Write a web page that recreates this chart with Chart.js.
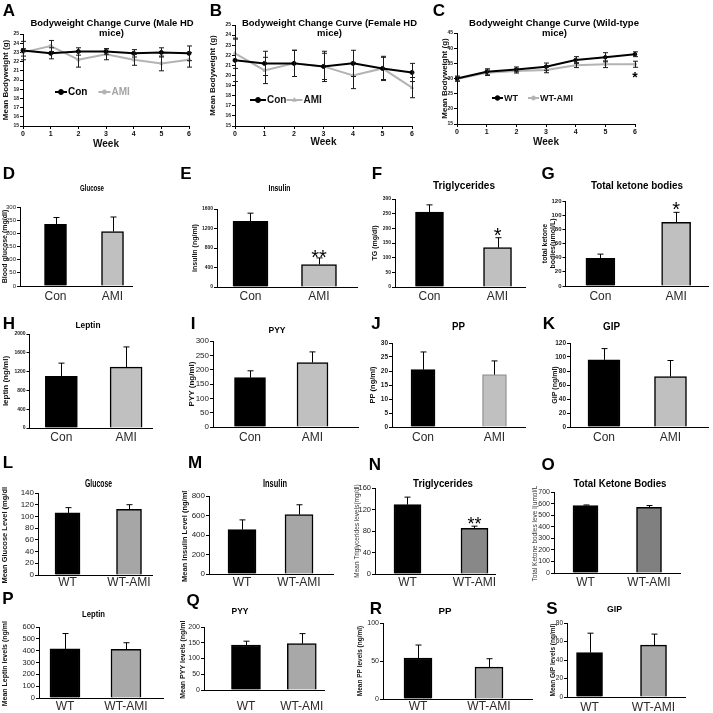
<!DOCTYPE html>
<html>
<head>
<meta charset="utf-8">
<title>Bodyweight and plasma hormone panels</title>
<script src="https://cdn.jsdelivr.net/npm/chart.js@4.4.1/dist/chart.umd.min.js"></script>
<style>
  html, body { margin: 0; padding: 0; background: #fff; }
  body { position: relative; width: 713px; height: 713px; overflow: hidden; }
  canvas { position: absolute; }
</style>
</head>
<body>
<script>
// ---- data ----
const weeks = ["0", "1", "2", "3", "4", "5", "6"];
const hdGroups = ["Con", "AMI"];
const wtGroups = ["WT", "WT-AMI"];

// A: male HD mice, mean bodyweight (g)
const maleCon = [23.2, 22.9, 23.1, 23.1, 22.9, 23.0, 22.9];
const maleConSem = [1.0, 0.6, 0.4, 0.3, 0.4, 0.5, 0.8];
const maleAmi = [23.0, 23.7, 22.2, 22.8, 22.2, 21.8, 22.2];
const maleAmiSem = [0.4, 0.6, 0.8, 0.6, 0.6, 0.8, 0.8];

// B: female HD mice
const femaleCon = [21.5, 21.2, 21.2, 20.9, 21.2, 20.7, 20.3];
const femaleConSem = [2.1, 1.2, 1.3, 1.5, 1.3, 1.2, 0.9];
const femaleAmi = [22.2, 20.5, 21.2, 20.9, 20.0, 20.7, 18.8];
const femaleAmiSem = [1.5, 1.3, 1.3, 1.3, 1.3, 1.1, 1.0];

// C: wild-type mice
const wtWeight = [30.0, 32.2, 33.0, 33.9, 36.1, 37.0, 38.0];
const wtWeightSem = [0.8, 1.0, 0.8, 1.2, 1.1, 1.5, 0.8];
const wtAmiWeight = [29.8, 31.9, 32.5, 32.8, 34.4, 34.7, 34.7];
const wtAmiWeightSem = [0.7, 0.9, 0.7, 0.9, 0.8, 1.1, 1.0];
const wtAmiWeightSig = ["", "", "", "", "", "", "*"];

// D-K: HD mice, Con vs AMI
const hdGlucose = [234, 207];      const hdGlucoseSem = [26, 55];
const hdInsulin = [1345, 462];     const hdInsulinSem = [170, 135];   const hdInsulinSig = ["", "**"];
const hdTg = [255, 134];           const hdTgSem = [25, 34];          const hdTgSig = ["", "*"];
const hdKetone = [39, 90];         const hdKetoneSem = [6, 14];       const hdKetoneSig = ["", "*"];
const hdLeptin = [1100, 1295];     const hdLeptinSem = [280, 430];
const hdPyy = [172, 225];          const hdPyySem = [24, 37];
const hdPp = [20.5, 18.7];         const hdPpSem = [6.3, 4.9];
const hdGip = [96, 72];            const hdGipSem = [16, 23];

// L-S: wild-type mice, WT vs WT-AMI
const wtGlucose = [106, 112];      const wtGlucoseSem = [9, 8];
const wtInsulin = [455, 610];      const wtInsulinSem = [100, 100];
const wtTg = [129, 85];            const wtTgSem = [14, 4];           const wtTgSig = ["", "**"];
const wtKetone = [582, 568];       const wtKetoneSem = [6, 15];
const wtLeptin = [415, 412];       const wtLeptinSem = [130, 55];
const wtPyy = [143, 147];          const wtPyySem = [12, 32];
const wtPp = [54, 42];             const wtPpSem = [17, 11];
const wtGip = [48, 56];            const wtGipSem = [21, 12];

// ---- chart setup ----
const FONT = '"Liberation Sans", Arial, sans-serif';
Chart.defaults.font.family = FONT;
Chart.defaults.color = "#111";
Chart.defaults.animation = false;

const valueOf = (d) => (d !== null && typeof d === "object" ? d.y : d);
const plainTick = (v) => String(v);

// error bars (upward for bars, both ways for curves)
const errorBars = {
  id: "errorBars",
  afterDatasetsDraw(chart) {
    const ctx = chart.ctx;
    const yScale = chart.scales.y;
    chart.data.datasets.forEach((ds, di) => {
      if (!ds.sem) return;
      const meta = chart.getDatasetMeta(di);
      ctx.save();
      ctx.strokeStyle = ds.semColor || "#000";
      ctx.lineWidth = 1;
      meta.data.forEach((pt, i) => {
        const v = valueOf(ds.data[i]);
        const x = Math.round(pt.x) + 0.5;
        const hi = yScale.getPixelForValue(v + ds.sem[i]);
        const lo = ds.semBoth ? yScale.getPixelForValue(v - ds.sem[i]) : pt.y;
        const cap = ds.semCap || 3;
        ctx.beginPath();
        ctx.moveTo(x, hi);
        ctx.lineTo(x, lo);
        ctx.moveTo(x - cap, hi);
        ctx.lineTo(x + cap, hi);
        if (ds.semBoth) {
          ctx.moveTo(x - cap, lo);
          ctx.lineTo(x + cap, lo);
        }
        ctx.stroke();
      });
      ctx.restore();
    });
  }
};

// significance asterisks
const sigStars = {
  id: "sigStars",
  afterDatasetsDraw(chart) {
    const ctx = chart.ctx;
    const yScale = chart.scales.y;
    chart.data.datasets.forEach((ds, di) => {
      if (!ds.sig) return;
      const meta = chart.getDatasetMeta(di);
      const size = ds.sigSize || 20;
      const gap = ds.sigGap || 6;
      ctx.save();
      ctx.font = (ds.sigWeight || "normal") + " " + size + "px " + FONT;
      ctx.fillStyle = "#000";
      ctx.textAlign = "center";
      ctx.textBaseline = "alphabetic";
      ds.sig.forEach((s, i) => {
        if (!s) return;
        const v = valueOf(ds.data[i]);
        const mid = ds.sigBelow
          ? yScale.getPixelForValue(v - ds.sem[i]) + gap
          : yScale.getPixelForValue(v + ds.sem[i]) - gap;
        ctx.fillText(s, meta.data[i].x, mid + 0.57 * size);
      });
      ctx.restore();
    });
  }
};

// legend drawn inside the plot, like the original figure
const innerLegend = {
  id: "innerLegend",
  afterDatasetsDraw(chart, args, opts) {
    if (opts.left === undefined) return;
    const ctx = chart.ctx;
    let x = chart.chartArea.left + opts.left;
    const y = chart.chartArea.top + opts.top;
    ctx.save();
    ctx.font = opts.textFont;
    ctx.textBaseline = "middle";
    chart.data.datasets.forEach((ds, i) => {
      ctx.strokeStyle = ds.borderColor;
      ctx.lineWidth = ds.borderWidth;
      ctx.beginPath();
      ctx.moveTo(x, y);
      ctx.lineTo(x + opts.lineLen, y);
      ctx.stroke();
      ctx.fillStyle = ds.pointBackgroundColor;
      ctx.strokeStyle = ds.pointBorderColor;
      ctx.lineWidth = 1;
      Chart.helpers.drawPoint(ctx, { pointStyle: ds.pointStyle, radius: ds.pointRadius + 0.5, rotation: 0, borderWidth: 1 },
        x + opts.lineLen / 2, y);
      x += opts.lineLen + 1;
      ctx.fillStyle = opts.textColors[i];
      ctx.fillText(ds.label, x, y + 0.5);
      x += ctx.measureText(ds.label).width + opts.gap;
    });
    ctx.restore();
  }
};

Chart.register(errorBars, sigStars, innerLegend);

function placeCanvas(left, top, w, h) {
  const cv = document.createElement("canvas");
  cv.width = w;
  cv.height = h;
  cv.style.left = left + "px";
  cv.style.top = top + "px";
  cv.style.width = w + "px";
  cv.style.height = h + "px";
  document.body.appendChild(cv);
  return cv;
}

// ---- curve panels A-C ----
const curvePanels = [
  { rect: [23, 34, 189, 126], titleX: 6, weekY: 144, yMin: 15, yMax: 25, yStep: 1,
    series: [
      { label: "Con", data: maleCon, sem: maleConSem, color: "#000", point: "circle", radius: 2 },
      { label: "AMI", data: maleAmi, sem: maleAmiSem, color: "#b3b3b3", point: "circle", radius: 1.6 }],
    legend: { left: 32, top: 58, lineLen: 12, gap: 11, textFont: "bold 10px " + FONT, textColors: ["#000", "#a5a5a5"] } },
  { rect: [235, 25, 412, 126], titleX: 213, weekY: 142, yMin: 15, yMax: 25, yStep: 1,
    series: [
      { label: "Con", data: femaleCon, sem: femaleConSem, color: "#000", point: "circle", radius: 2 },
      { label: "AMI", data: femaleAmi, sem: femaleAmiSem, color: "#b3b3b3", point: "triangle", radius: 1.8 }],
    legend: { left: 15, top: 75, lineLen: 16, gap: 0, textFont: "bold 10px " + FONT, textColors: ["#111", "#111"] } },
  { rect: [457, 33, 635, 124], titleX: 445, weekY: 142, yMin: 15, yMax: 45, yStep: 5,
    series: [
      { label: "WT", data: wtWeight, sem: wtWeightSem, color: "#000", point: "circle", radius: 1.8 },
      { label: "WT-AMI", data: wtAmiWeight, sem: wtAmiWeightSem, sig: wtAmiWeightSig, color: "#b3b3b3", point: "circle", radius: 1.5 }],
    legend: { left: 35, top: 65, lineLen: 11, gap: 10, textFont: "bold 9px " + FONT, textColors: ["#111", "#111"] } }
];

curvePanels.forEach((p) => {
  const [x0, y0, x1, y1] = p.rect;
  const L = x0 - p.titleX + 6, T = 6, R = 6, B = p.weekY - y1 + 8;
  const cv = placeCanvas(x0 - L, y0 - T, x1 - x0 + L + R, y1 - y0 + T + B);
  new Chart(cv, {
    type: "line",
    data: {
      labels: weeks,
      datasets: p.series.map((s) => ({
        label: s.label,
        data: s.data,
        sem: s.sem,
        semBoth: true,
        semCap: 2.5,
        semColor: "#1a1a1a",
        sig: s.sig,
        sigBelow: true,
        sigSize: 14,
        sigWeight: "bold",
        sigGap: 7,
        borderColor: s.color,
        borderWidth: 2,
        tension: 0,
        pointStyle: s.point,
        pointRadius: s.radius,
        pointBackgroundColor: s.color,
        pointBorderColor: s.color,
        pointBorderWidth: 1
      }))
    },
    options: {
      responsive: false,
      animation: false,
      devicePixelRatio: 1,
      layout: { padding: { top: T, right: R, left: 0, bottom: 0 } },
      plugins: { legend: { display: false }, tooltip: { enabled: false }, innerLegend: p.legend },
      scales: {
        x: {
          offset: false,
          grid: { drawOnChartArea: false, tickLength: 3, color: "#000" },
          border: { color: "#000", width: 1 },
          ticks: { font: { size: 7, weight: "bold" }, color: "#111", padding: 1, maxRotation: 0, autoSkip: false },
          title: { display: true, text: "Week", font: { size: 10, weight: "bold" }, color: "#111", padding: { top: 0, bottom: 2 } },
          afterFit: (s) => { s.height = B; }
        },
        y: {
          min: p.yMin,
          max: p.yMax,
          ticks: { stepSize: p.yStep, font: { size: 5, weight: "bold" }, color: "#222", padding: 1, autoSkip: false },
          grid: { drawOnChartArea: false, tickLength: 3, color: "#000" },
          border: { color: "#000", width: 1 },
          title: { display: true, text: "Mean Bodyweight (g)", font: { size: 8, weight: "bold" }, color: "#111", padding: { top: 1.2, bottom: 0 } },
          afterFit: (s) => { s.width = L; }
        }
      }
    }
  });
});

// ---- bar panels D-S ----
const hdGray = "#c0c0c0";
const barPanels = [
  // D
  { rect: [20, 207, 132, 286], xRange: [0.377, 2.342], barW: 22, titleX: 5, labelY: 297, groups: hdGroups,
    values: hdGlucose, sem: hdGlucoseSem, fill: hdGray, yMax: 300, yStep: 50,
    tickFont: { size: 6 }, yTitle: "Blood glucose (mg/dl)", yTitleFont: { size: 7, weight: "bold" } },
  // E
  { rect: [217, 209, 357, 287], xRange: [0.511, 2.555], barW: 35, titleX: 195, labelY: 297, groups: hdGroups,
    values: hdInsulin, sem: hdInsulinSem, sig: hdInsulinSig, sigGap: 5, fill: hdGray, yMax: 1600, yStep: 400,
    tickFont: { size: 5, weight: "bold" }, yTitle: "insulin (ng/ml)", yTitleFont: { size: 7, weight: "bold" } },
  // F
  { rect: [395, 199, 525, 287], xRange: [0.493, 2.404], barW: 28, titleX: 375, labelY: 297, groups: hdGroups,
    values: hdTg, sem: hdTgSem, sig: hdTgSig, sigGap: 7, fill: hdGray, yMax: 300, yStep: 50,
    tickFont: { size: 5, weight: "bold" }, yTitle: "TG (mg/dl)", yTitleFont: { size: 7, weight: "bold" } },
  // G
  { rect: [565, 201, 708, 286], xRange: [0.539, 2.421], barW: 29, titleX: 544.5, labelY: 297, groups: hdGroups,
    values: hdKetone, sem: hdKetoneSem, sig: hdKetoneSig, sigGap: 8, fill: hdGray, yMax: 120, yStep: 20,
    tickFont: { size: 6, weight: "bold" }, yTitle: ["total ketone", "bodies(umol/L)"], yTitleFont: { size: 7, weight: "bold", lineHeight: 1.15 } },
  // H
  { rect: [29, 334, 152, 428], xRange: [0.508, 2.4], barW: 32, titleX: 5.5, labelY: 438, groups: hdGroups,
    values: hdLeptin, sem: hdLeptinSem, fill: hdGray, yMax: 2000, yStep: 400,
    tickFont: { size: 5, weight: "bold" }, yTitle: "leptin (ng/ml)", yTitleFont: { size: 8, weight: "bold" } },
  // I
  { rect: [213, 341, 358, 427], xRange: [0.408, 2.728], barW: 31, titleX: 192, labelY: 438, groups: hdGroups,
    values: hdPyy, sem: hdPyySem, fill: hdGray, yMax: 300, yStep: 50,
    tickFont: { size: 8 }, yTitle: "PYY (ng/ml)", yTitleFont: { size: 8, weight: "bold" } },
  // J
  { rect: [392, 343, 525, 427], xRange: [0.566, 2.427], barW: 24, titleX: 373, labelY: 438, groups: hdGroups,
    values: hdPp, sem: hdPpSem, fill: hdGray, edge: "#9a9a9a", yMax: 30, yStep: 5,
    tickFont: { size: 6.5, weight: "bold" }, yTitle: "PP (ng/ml)", yTitleFont: { size: 7.5, weight: "bold" } },
  // K
  { rect: [570, 343, 708, 427], xRange: [0.489, 2.564], barW: 32, titleX: 555, labelY: 438, groups: hdGroups,
    values: hdGip, sem: hdGipSem, fill: hdGray, yMax: 120, yStep: 20,
    tickFont: { size: 6.5, weight: "bold" }, yTitle: "GIP (ng/ml)", yTitleFont: { size: 7, weight: "bold" } },
  // L
  { rect: [38, 493, 152, 575], xRange: [0.52, 2.374], barW: 25, titleX: 5, labelY: 583, groups: wtGroups,
    values: wtGlucose, sem: wtGlucoseSem, fill: "#a6a6a6", yMax: 140, yStep: 20,
    tickFont: { size: 8 }, yTitle: "Mean Glucose Level (mg/dl)", yTitleFont: { size: 7.5, weight: "bold" } },
  // M
  { rect: [209, 496, 333, 574], xRange: [0.421, 2.596], barW: 28, titleX: 185, labelY: 583, groups: wtGroups,
    values: wtInsulin, sem: wtInsulinSem, fill: "#a6a6a6", yMax: 800, yStep: 200,
    tickFont: { size: 8 }, yTitle: "Mean Insulin Level (ng/ml)", yTitleFont: { size: 7.5, weight: "bold" } },
  // N
  { rect: [375, 488, 495, 574], xRange: [0.515, 2.306], barW: 27, titleX: 357, labelY: 583, groups: wtGroups,
    values: wtTg, sem: wtTgSem, sig: wtTgSig, sigGap: 6, sigSize: 18, fill: "#888888", yMax: 160, yStep: 40,
    tickFont: { size: 7.5 }, yTitle: "Mean Triglycerides levels(mg/dl)", yTitleFont: { size: 6.5 }, yTitleColor: "#333" },
  // O
  { rect: [554, 492, 680, 573], xRange: [0.504, 2.488], barW: 25, titleX: 535, labelY: 583, groups: wtGroups,
    values: wtKetone, sem: wtKetoneSem, fill: "#808080", yMax: 700, yStep: 100,
    tickFont: { size: 7 }, yTitle: "Total Ketone bodies leve l(umol/L)", yTitleFont: { size: 6.5 }, yTitleColor: "#333" },
  // P
  { rect: [39, 627, 163, 698], xRange: [0.574, 2.607], barW: 30, titleX: 5, labelY: 707, groups: wtGroups,
    values: wtLeptin, sem: wtLeptinSem, fill: "#a8a8a8", yMax: 600, yStep: 100,
    tickFont: { size: 7.5 }, yTitle: "Mean Leptin levels (ng/ml)", yTitleFont: { size: 7, weight: "bold" } },
  // Q
  { rect: [204, 627, 330, 690], xRange: [0.248, 2.402], barW: 29, titleX: 183, labelY: 707, groups: wtGroups,
    values: wtPyy, sem: wtPyySem, fill: "#a8a8a8", yMax: 200, yStep: 50,
    tickFont: { size: 7 }, yTitle: "Mean PYY levels (ng/ml)", yTitleFont: { size: 7, weight: "bold" } },
  // R
  { rect: [383, 623, 532, 699], xRange: [0.507, 2.606], barW: 28, titleX: 360, labelY: 707, groups: wtGroups,
    values: wtPp, sem: wtPpSem, fill: "#a8a8a8", yMax: 100, yStep: 50,
    tickFont: { size: 7 }, yTitle: "Mean PP levels (ng/ml)", yTitleFont: { size: 6.5, weight: "bold" } },
  // S
  { rect: [567, 623, 685, 697], xRange: [0.648, 2.492], barW: 26, titleX: 553, labelY: 708, groups: wtGroups,
    values: wtGip, sem: wtGipSem, fill: "#a8a8a8", yMax: 80, yStep: 20,
    tickFont: { size: 6.5 }, yTitle: "Mean GIP levels (ng/ml)", yTitleFont: { size: 6.5, weight: "bold" } }
];

barPanels.forEach((p) => {
  const [x0, y0, x1, y1] = p.rect;
  const L = x0 - p.titleX + 6, T = 6, R = 4, B = p.labelY - y1 + 9;
  const cv = placeCanvas(x0 - L, y0 - T, x1 - x0 + L + R, y1 - y0 + T + B);
  const tSize = p.yTitleFont.size;
  const tLine = p.yTitleFont.lineHeight || 1.2;
  new Chart(cv, {
    type: "bar",
    data: {
      datasets: [{
        data: p.values.map((v, i) => ({ x: i + 1, y: v })),
        sem: p.sem,
        sig: p.sig,
        sigSize: p.sigSize || 20,
        sigGap: p.sigGap || 6,
        backgroundColor: ["#000", p.fill],
        borderColor: ["#000", p.edge || "#000"],
        borderWidth: 1.5,
        barThickness: p.barW
      }]
    },
    options: {
      responsive: false,
      animation: false,
      devicePixelRatio: 1,
      layout: { padding: { top: T, right: R, left: 0, bottom: 0 } },
      plugins: { legend: { display: false }, tooltip: { enabled: false } },
      scales: {
        x: {
          type: "linear",
          offset: false,
          min: p.xRange[0],
          max: p.xRange[1],
          grid: { offset: false, drawOnChartArea: false, drawTicks: false },
          border: { color: "#000", width: 1 },
          ticks: {
            stepSize: 1,
            includeBounds: false,
            autoSkip: false,
            maxRotation: 0,
            callback: (v) => p.groups[v - 1] || "",
            font: { size: 12 },
            color: "#2a2a2a",
            padding: p.labelY - y1 - 7.2
          },
          afterFit: (s) => { s.height = B; }
        },
        y: {
          min: 0,
          max: p.yMax,
          ticks: { stepSize: p.yStep, font: p.tickFont, color: "#222", padding: 1, autoSkip: false, callback: plainTick },
          grid: { drawOnChartArea: false, tickLength: 3, color: "#000" },
          border: { color: "#000", width: 1 },
          title: {
            display: true,
            text: p.yTitle,
            font: p.yTitleFont,
            color: p.yTitleColor || "#111",
            padding: { top: 6 - (tSize * tLine) / 2, bottom: 0 }
          },
          afterFit: (s) => { s.width = L; }
        }
      }
    }
  });
});

// ---- panel headings and letters, on a page-sized overlay canvas ----
const headings = [
  ["Bodyweight Change Curve (Male HD", 112, 22.5, 9.5, 163],
  ["mice)", 111.5, 33, 9.5, 0],
  ["Bodyweight Change Curve (Female HD", 329.5, 22.5, 9.5, 175],
  ["mice)", 329.5, 33, 9.5, 0],
  ["Bodyweight Change Curve (Wild-type", 554, 22.5, 9.5, 170],
  ["mice)", 554.5, 33, 9.5, 0],
  ["Glucose", 92, 188, 9, 24],
  ["Insulin", 279.5, 188, 9, 22],
  ["Triglycerides", 464, 185.5, 10, 62],
  ["Total ketone bodies", 637, 185.5, 10, 92],
  ["Leptin", 88, 325.5, 9, 25],
  ["PYY", 277, 330, 9, 17],
  ["PP", 458.5, 327, 10, 13],
  ["GIP", 611.5, 327, 10, 17],
  ["Glucose", 98.5, 484, 10, 27],
  ["Insulin", 275, 484, 10, 24],
  ["Triglycerides", 443, 484, 10, 60],
  ["Total Ketone Bodies", 620, 484, 10, 93],
  ["Leptin", 93.5, 614, 9, 23],
  ["PYY", 240, 611, 9, 17],
  ["PP", 445, 611, 9, 13],
  ["GIP", 614.5, 609, 9, 15]
];

const letters = [
  ["A", 9, 10], ["B", 216, 10], ["C", 439, 10],
  ["D", 9, 173], ["E", 186, 173], ["F", 377, 173], ["G", 548, 173],
  ["H", 9, 323], ["I", 193, 323], ["J", 376, 323], ["K", 549, 323],
  ["L", 8, 462], ["M", 195, 462], ["N", 375, 464], ["O", 548, 464],
  ["P", 8, 598], ["Q", 193, 600], ["R", 376, 608], ["S", 552, 608]
];

const overlay = placeCanvas(0, 0, 713, 713);
overlay.style.zIndex = 3;
const octx = overlay.getContext("2d");
function drawHeading(text, cx, cy, size, width) {
  octx.save();
  octx.font = "bold " + size + "px " + FONT;
  octx.textAlign = "center";
  octx.textBaseline = "middle";
  const sx = width ? width / octx.measureText(text).width : 1;
  octx.translate(cx, cy + 0.5);
  octx.scale(sx, 1);
  octx.fillStyle = "#000";
  octx.fillText(text, 0, 0);
  octx.restore();
}
headings.forEach(([t, x, y, s, w]) => drawHeading(t, x, y, s, w));
letters.forEach(([t, x, y]) => drawHeading(t, x, y + 1, 17, 0));
</script>
</body>
</html>
